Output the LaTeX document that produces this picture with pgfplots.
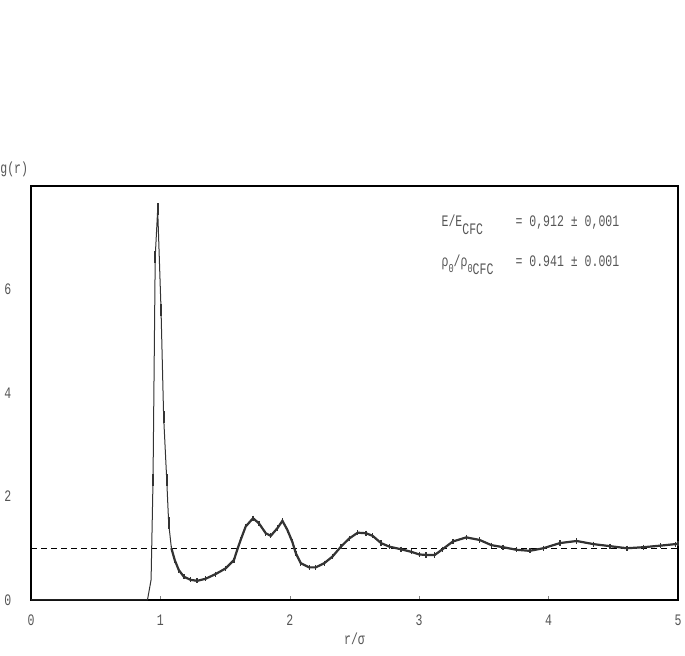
\documentclass[border=0pt]{standalone}
\usepackage{pgfplots}
\pgfplotsset{compat=1.18}
\usepackage{fontspec}
\setmainfont{Liberation Mono}[FakeStretch=0.72]
\definecolor{txt}{HTML}{555555}
\definecolor{crv}{HTML}{333333}
\pgfplotstableread{
x y
0 0
0.90 0
0.928 0.39
0.943 2.32
0.960 6.63
0.979 7.55
1.005 5.60
1.025 3.54
1.049 2.32
1.064 1.48
1.085 1.00
1.111 0.77
1.142 0.58
1.181 0.45
1.233 0.39
1.284 0.37
1.349 0.41
1.426 0.50
1.504 0.61
1.568 0.77
1.594 0.97
1.620 1.16
1.659 1.42
1.716 1.58
1.762 1.48
1.814 1.29
1.853 1.24
1.905 1.39
1.943 1.53
1.982 1.35
2.020 1.12
2.047 0.90
2.085 0.71
2.150 0.63
2.200 0.63
2.266 0.71
2.330 0.84
2.395 1.03
2.460 1.19
2.525 1.30
2.589 1.29
2.640 1.24
2.705 1.10
2.770 1.03
2.860 0.98
2.940 0.93
3.000 0.88
3.054 0.87
3.120 0.87
3.180 0.98
3.260 1.13
3.364 1.21
3.467 1.16
3.558 1.06
3.649 1.02
3.752 0.97
3.855 0.95
3.959 1.00
4.088 1.10
4.217 1.14
4.346 1.08
4.475 1.04
4.605 1.00
4.734 1.02
4.863 1.05
4.980 1.08
5.000 1.09
}\gr
\pgfplotstableread{
x y
0.943 2.32
0.960 6.63
0.979 7.55
1.005 5.60
1.025 3.54
1.049 2.32
1.064 1.48
}\peak
\begin{document}
\fontsize{8}{9.6}\selectfont
\begin{tikzpicture}
\useasboundingbox (0,0) rectangle (342.5pt,328pt);
\begin{axis}[
  at={(15.5pt,28pt)}, anchor=south west,
  scale only axis, width=323.5pt, height=207pt,
  xmin=0, xmax=5, ymin=0, ymax=8,
  axis line style={line width=0.9pt},
  xtick={0,1,2,3,4,5}, ytick={0,2,4,6},
  xtick pos=bottom, tick align=inside, major tick length=2pt,
  ytick style={draw=none},
  tick label style={font=\fontsize{8}{9.6}\selectfont, text=txt},
  yticklabel style={xshift=-7pt},
  xticklabel style={yshift=-4.5pt},
  /pgf/number format/assume math mode=true,
  xlabel={r/σ}, xlabel style={text=txt, yshift=2pt},
  clip=false,
]
\addplot[black, dash pattern=on 3pt off 2pt, line width=0.6pt] coordinates {(0,1) (5,1)};
\addplot[crv, line width=0.5pt] table[x=x,y=y] {\gr};
\addplot[crv, line width=1.1pt, restrict x to domain=1.07:5, mark=|, mark size=1.3pt, mark options={line width=0.7pt}] table[x=x,y=y] {\gr};
\addplot[crv, only marks, mark=|, mark size=3pt, mark options={line width=1pt}] table[x=x,y=y] {\peak};
\node[anchor=south west, text=txt, inner sep=0pt] at (rel axis cs:0,1) [xshift=-15.5pt, yshift=4.5pt] {g(r)};
\node[anchor=west, text=txt, inner sep=0pt] at (axis cs:3.17,7.25) {\makebox[37pt][l]{E/E\raisebox{-0.9ex}{CFC}}= 0,912 ± 0,001};
\node[anchor=west, text=txt, inner sep=0pt] at (axis cs:3.17,6.48) {\makebox[37pt][l]{ρ\raisebox{-0.7ex}{\fontsize{6}{6}\selectfont 0}/ρ\raisebox{-0.7ex}{\fontsize{6}{6}\selectfont 0}\raisebox{-0.9ex}{CFC}}= 0.941 ± 0.001};
\end{axis}
\end{tikzpicture}
\end{document}
